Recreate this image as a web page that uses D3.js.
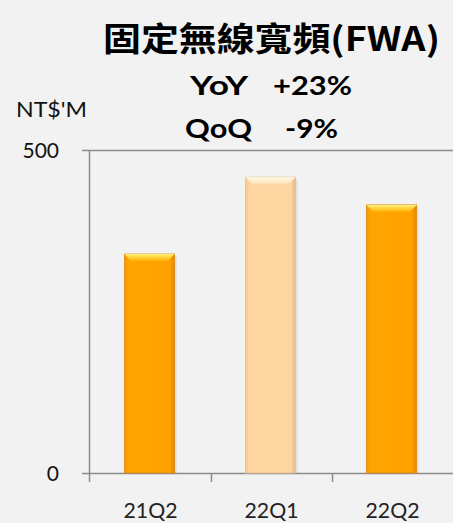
<!DOCTYPE html>
<html>
<head>
<meta charset="utf-8">
<script src="https://cdn.jsdelivr.net/npm/d3@7"></script>
<style>
  html, body { margin: 0; padding: 0; background: #f2f2f2; }
  svg { display: block; }
</style>
</head>
<body>
<div id="chart"></div>
<script>
const quarters = ["21Q2", "22Q1", "22Q2"]
const revenue = [339, 458, 415]
const highlighted = [false, true, false]
const yTicks = [0, 500]
const titleText = "固定無線寬頻(FWA)"
const growthLines = [["YoY", "+23%"], ["QoQ", "-9%"]]
const unitLabel = "NT$'M"

const width = 453
const height = 523
const margin = { top: 150, right: 0, bottom: 50, left: 89 }

const latin = "Lato, 'Open Sans', sans-serif"

const svg = d3.select("#chart").append("svg")
    .attr("width", width)
    .attr("height", height)

svg.append("rect").attr("width", width).attr("height", height).attr("fill", "#f2f2f2")

const defs = svg.append("defs")
function barGradient(id, stops) {
    const g = defs.append("linearGradient").attr("id", id)
        .attr("x1", 0).attr("x2", 1).attr("y1", 0).attr("y2", 0)
    stops.forEach(([o, c]) => g.append("stop").attr("offset", o).attr("stop-color", c))
}
barGradient("orange", [[0, "#f59a00"], [0.08, "#ffa400"], [0.9, "#ffa200"], [1, "#e08a00"]])
barGradient("peach", [[0, "#f5c88e"], [0.08, "#fdd6a2"], [0.9, "#fdd5a0"], [1, "#e6b985"]])
const topGrad = defs.append("linearGradient").attr("id", "topOrange")
    .attr("x1", 0).attr("x2", 0).attr("y1", 0).attr("y2", 1)
topGrad.append("stop").attr("offset", 0).attr("stop-color", "#fff27a")
topGrad.append("stop").attr("offset", 1).attr("stop-color", "#ffb000")
const topGrad2 = defs.append("linearGradient").attr("id", "topPeach")
    .attr("x1", 0).attr("x2", 0).attr("y1", 0).attr("y2", 1)
topGrad2.append("stop").attr("offset", 0).attr("stop-color", "#fffbe8")
topGrad2.append("stop").attr("offset", 1).attr("stop-color", "#fde0b4")

const x = d3.scaleBand()
    .domain(quarters)
    .range([margin.left, margin.left + 363])
    .paddingInner(0.585)
    .paddingOuter(0.2925)

const y = d3.scaleLinear()
    .domain([0, 500])
    .range([height - margin.bottom, margin.top])

// gridline at top + baseline
svg.append("g").selectAll("line")
    .data(yTicks)
    .join("line")
    .attr("x1", 82)
    .attr("x2", width)
    .attr("y1", d => y(d) + 0.5)
    .attr("y2", d => y(d) + 0.5)
    .attr("stroke", "#8c8c8c")
    .attr("stroke-width", 1.5)

// y axis line
svg.append("line")
    .attr("x1", margin.left + 0.5).attr("x2", margin.left + 0.5)
    .attr("y1", y(500)).attr("y2", y(0) + 9)
    .attr("stroke", "#8c8c8c").attr("stroke-width", 1.5)

// x category ticks
const step = x.step()
svg.append("g").selectAll("line")
    .data(quarters.slice(1))
    .join("line")
    .attr("x1", d => x(d) - x.paddingInner() * step / 2 + 1.5)
    .attr("x2", d => x(d) - x.paddingInner() * step / 2 + 1.5)
    .attr("y1", y(0))
    .attr("y2", y(0) + 9)
    .attr("stroke", "#8c8c8c").attr("stroke-width", 1.5)

// y tick labels
svg.append("g").selectAll("text")
    .data(yTicks)
    .join("text")
    .attr("x", 59)
    .attr("y", d => y(d) + 8)
    .attr("text-anchor", "end")
    .attr("font-family", latin)
    .attr("font-size", 21)
    .attr("fill", "#111")
    .text(d => d)

svg.append("text")
    .attr("x", 16).attr("y", 117)
    .attr("font-family", latin)
    .attr("font-size", 21)
    .attr("textLength", 71)
    .attr("lengthAdjust", "spacingAndGlyphs")
    .attr("fill", "#111")
    .text(unitLabel)

// bars
const bars = svg.append("g").selectAll("g")
    .data(quarters.map((q, i) => ({ q, v: revenue[i], hl: highlighted[i] })))
    .join("g")

bars.append("rect")
    .attr("x", d => x(d.q) + 2)
    .attr("y", d => y(d.v) + 2)
    .attr("width", x.bandwidth())
    .attr("height", d => y(0) - y(d.v) - 2)
    .attr("fill", "#000")
    .attr("opacity", 0.08)

bars.append("rect")
    .attr("x", d => x(d.q))
    .attr("y", d => y(d.v))
    .attr("width", x.bandwidth())
    .attr("height", d => y(0) - y(d.v))
    .attr("fill", d => d.hl ? "url(#peach)" : "url(#orange)")
    .attr("stroke", d => d.hl ? "#e8c08e" : "#d98a10")
    .attr("stroke-width", 0.8)

bars.append("path")
    .attr("d", d => {
        const x0 = x(d.q), x1 = x0 + x.bandwidth(), t = y(d.v), b = 7
        return `M${x0},${t}L${x1},${t}L${x1 - b},${t + b}L${x0 + b},${t + b}Z`
    })
    .attr("fill", d => d.hl ? "url(#topPeach)" : "url(#topOrange)")

// x labels
svg.append("g").selectAll("text")
    .data(quarters)
    .join("text")
    .attr("x", d => x(d) + x.bandwidth() / 2 + 1)
    .attr("y", 518)
    .attr("text-anchor", "middle")
    .attr("font-family", latin)
    .attr("font-size", 21)
    .attr("textLength", 54)
    .attr("lengthAdjust", "spacingAndGlyphs")
    .attr("fill", "#222")
    .text(d => d)

// title + growth
svg.append("text")
    .attr("x", 103).attr("y", 51)
    .attr("font-family", "'Noto Sans CJK TC', sans-serif")
    .attr("font-weight", "bold")
    .attr("font-size", 33)
    .attr("textLength", 337)
    .attr("lengthAdjust", "spacingAndGlyphs")
    .text(titleText)

const growthX = [[190, 273], [185, 285]]
const growthW = [[58, 79], [67, 53]]
growthLines.forEach(([k, v], i) => {
    const yy = 95 + i * 43
    svg.append("text")
        .attr("x", growthX[i][0]).attr("y", yy)
        .attr("font-family", latin).attr("font-weight", "bold").attr("font-size", 26)
        .attr("textLength", growthW[i][0]).attr("lengthAdjust", "spacingAndGlyphs")
        .text(k)
    svg.append("text")
        .attr("x", growthX[i][1]).attr("y", yy)
        .attr("font-family", latin).attr("font-weight", "bold").attr("font-size", 26)
        .attr("textLength", growthW[i][1]).attr("lengthAdjust", "spacingAndGlyphs")
        .text(v)
})
</script>
</body>
</html>
